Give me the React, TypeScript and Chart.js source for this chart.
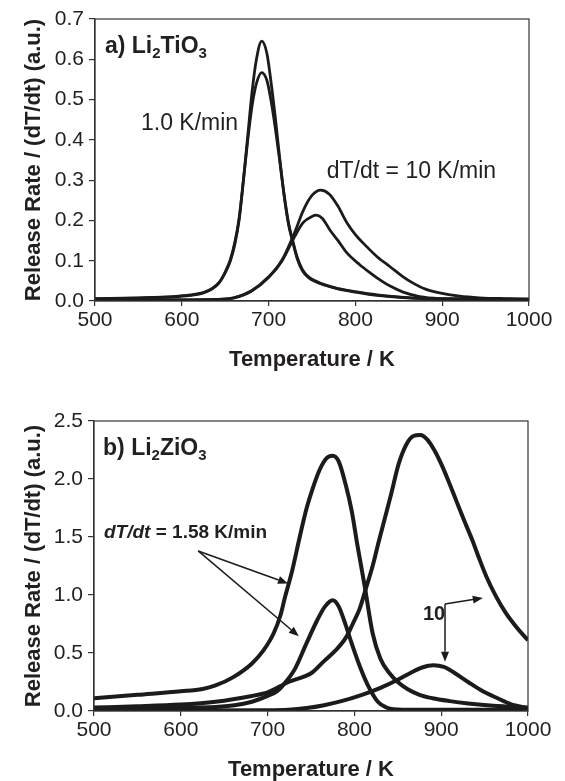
import React, { useEffect, useRef } from 'react';
import { Chart, registerables } from 'chart.js';

Chart.register(...registerables);

// ---------- Panel a) Li2TiO3 ----------
// 1.0 K/min, run 1
const tA1 = [500, 550, 590, 610, 625, 635, 643, 650, 656, 661, 666, 671, 676, 681, 686, 692, 698, 703, 708, 713, 718, 723, 728, 733, 739, 746, 755, 765, 780, 800, 825, 850, 880, 930, 1000];
const vA1 = [0.005, 0.007, 0.010, 0.014, 0.020, 0.030, 0.045, 0.070, 0.100, 0.140, 0.200, 0.300, 0.410, 0.520, 0.600, 0.645, 0.615, 0.540, 0.450, 0.350, 0.260, 0.190, 0.145, 0.105, 0.075, 0.058, 0.047, 0.039, 0.030, 0.022, 0.014, 0.009, 0.006, 0.005, 0.004];
// 1.0 K/min, run 2
const tA2 = [500, 550, 590, 610, 625, 635, 643, 650, 656, 661, 666, 671, 676, 681, 686, 692, 698, 703, 708, 713, 718, 723, 728, 733, 739, 746, 755, 765, 780, 800, 825, 850, 880, 930, 1000];
const vA2 = [0.006, 0.008, 0.011, 0.015, 0.021, 0.031, 0.046, 0.072, 0.103, 0.145, 0.205, 0.300, 0.400, 0.485, 0.540, 0.567, 0.548, 0.495, 0.425, 0.345, 0.262, 0.193, 0.148, 0.108, 0.078, 0.060, 0.049, 0.040, 0.031, 0.023, 0.015, 0.010, 0.006, 0.005, 0.004];
// 10 K/min, run 1
const tB1 = [500, 600, 640, 660, 680, 700, 715, 730, 740, 750, 760, 770, 780, 790, 800, 813, 825, 840, 855, 866, 880, 897, 920, 943, 970, 1000];
const vB1 = [0.003, 0.003, 0.004, 0.008, 0.025, 0.060, 0.100, 0.170, 0.225, 0.262, 0.275, 0.265, 0.235, 0.195, 0.165, 0.135, 0.110, 0.085, 0.060, 0.045, 0.030, 0.020, 0.012, 0.008, 0.006, 0.005];
// 10 K/min, run 2
const tB2 = [500, 600, 640, 660, 680, 700, 715, 730, 740, 750, 755, 762, 771, 780, 790, 805, 817, 830, 840, 855, 874, 897, 950, 1000];
const vB2 = [0.003, 0.003, 0.004, 0.008, 0.024, 0.058, 0.098, 0.160, 0.195, 0.210, 0.213, 0.205, 0.175, 0.150, 0.120, 0.090, 0.070, 0.050, 0.037, 0.022, 0.011, 0.006, 0.004, 0.004];

// ---------- Panel b) Li2ZiO3 ----------
// 1.58 K/min, large
const tC1 = [500, 550, 600, 625, 640, 660, 682, 695, 707, 715, 720, 728, 737, 745, 752, 760, 768, 775, 782, 790, 797, 803, 812, 821, 830, 840, 850, 861, 875, 890, 910, 931, 960, 1000];
const vC1 = [0.11, 0.14, 0.17, 0.19, 0.22, 0.29, 0.41, 0.52, 0.67, 0.83, 0.98, 1.20, 1.50, 1.75, 1.92, 2.08, 2.18, 2.20, 2.15, 1.95, 1.72, 1.45, 1.07, 0.67, 0.45, 0.33, 0.25, 0.19, 0.14, 0.11, 0.085, 0.065, 0.045, 0.03];
// 1.58 K/min, small
const tC2 = [500, 550, 600, 640, 682, 700, 711, 722, 732, 744, 757, 766, 775, 782, 790, 797, 805, 815, 827, 837, 845, 870, 1000];
const vC2 = [0.02, 0.025, 0.03, 0.035, 0.08, 0.13, 0.17, 0.26, 0.37, 0.57, 0.78, 0.90, 0.955, 0.90, 0.74, 0.58, 0.41, 0.23, 0.08, 0.03, 0.015, 0.01, 0.01];
// 10 K/min, large
const tC3 = [500, 550, 600, 640, 682, 700, 724, 751, 765, 778, 790, 798, 806, 813, 821, 828, 835, 842, 851, 860, 868, 876, 884, 892, 900, 908, 917, 926, 936, 944, 952, 963, 974, 987, 1000];
const vC3 = [0.03, 0.04, 0.055, 0.08, 0.13, 0.16, 0.25, 0.33, 0.43, 0.52, 0.63, 0.75, 0.88, 1.05, 1.25, 1.46, 1.66, 1.86, 2.13, 2.30, 2.37, 2.38, 2.34, 2.25, 2.13, 1.99, 1.82, 1.65, 1.47, 1.31, 1.16, 0.99, 0.85, 0.72, 0.61];
// 10 K/min, small
const tC4 = [500, 600, 700, 724, 745, 765, 785, 807, 830, 850, 865, 878, 891, 903, 915, 931, 948, 965, 980, 1000];
const vC4 = [0.005, 0.005, 0.006, 0.01, 0.025, 0.05, 0.085, 0.135, 0.20, 0.27, 0.33, 0.375, 0.395, 0.38, 0.33, 0.25, 0.17, 0.11, 0.06, 0.025];

const xTicks = [500, 600, 700, 800, 900, 1000];

const FONT = "'Liberation Sans', Arial, Helvetica, sans-serif";
const INK = '#1c1a1b';
const AXIS = '#333333';
const TEXT = '#231f20';

type Seg = { text: string; sub?: boolean; italic?: boolean; bold?: boolean };
type Label = { x: number; y: number; size: number; segs: Seg[] };
type Arrow = { x1: number; y1: number; x2: number; y2: number; head: boolean };

const topLabels: Label[] = [
  { x: 511.5, y: 0.615, size: 23, segs: [{ text: 'a) Li', bold: true }, { text: '2', sub: true, bold: true }, { text: 'TiO', bold: true }, { text: '3', sub: true, bold: true }] },
  { x: 553, y: 0.424, size: 23, segs: [{ text: '1.0 K/min' }] },
  { x: 767, y: 0.305, size: 23, segs: [{ text: 'dT/dt = 10 K/min' }] },
];
const bottomLabels: Label[] = [
  { x: 510.4, y: 2.207, size: 23, segs: [{ text: 'b) Li', bold: true }, { text: '2', sub: true, bold: true }, { text: 'ZiO', bold: true }, { text: '3', sub: true, bold: true }] },
  { x: 511.5, y: 1.49, size: 19, segs: [{ text: 'dT/dt', bold: true, italic: true }, { text: ' = 1.58 K/min', bold: true }] },
  { x: 879, y: 0.784, size: 20, segs: [{ text: '10', bold: true }] },
];
const bottomArrows: Arrow[] = [
  { x1: 620, y1: 1.38, x2: 723.5, y2: 1.10, head: true },
  { x1: 620, y1: 1.38, x2: 736, y2: 0.645, head: true },
  { x1: 904.4, y1: 0.922, x2: 948, y2: 0.974, head: true },
  { x1: 904.4, y1: 0.922, x2: 904.4, y2: 0.425, head: true },
];

function pts(t: number[], v: number[]) {
  return t.map((x, i) => ({ x, y: v[i] }));
}

function overlay(labels: Label[], arrows: Arrow[]) {
  return {
    id: 'overlay',
    afterDraw(chart: any) {
      const { ctx, chartArea: ca, scales } = chart;
      const xs = scales.x, ys = scales.y;
      ctx.save();
      ctx.strokeStyle = AXIS;
      ctx.lineWidth = 1.2;
      ctx.strokeRect(ca.left, ca.top, ca.right - ca.left, ca.bottom - ca.top);
      ctx.fillStyle = TEXT;
      ctx.textAlign = 'left';
      ctx.textBaseline = 'alphabetic';
      for (const L of labels) {
        let px = xs.getPixelForValue(L.x);
        const py = ys.getPixelForValue(L.y);
        for (const s of L.segs) {
          const size = s.sub ? Math.round(L.size * 0.65) : L.size;
          ctx.font = `${s.italic ? 'italic ' : ''}${s.bold ? 'bold ' : ''}${size}px ${FONT}`;
          ctx.fillText(s.text, px, py + (s.sub ? L.size * 0.22 : 0));
          px += ctx.measureText(s.text).width;
        }
      }
      ctx.strokeStyle = INK;
      ctx.fillStyle = INK;
      ctx.lineWidth = 1.5;
      for (const a of arrows) {
        const x1 = xs.getPixelForValue(a.x1), y1 = ys.getPixelForValue(a.y1);
        const x2 = xs.getPixelForValue(a.x2), y2 = ys.getPixelForValue(a.y2);
        const ang = Math.atan2(y2 - y1, x2 - x1);
        const hl = 10, hw = 4;
        const bx = x2 - hl * Math.cos(ang), by = y2 - hl * Math.sin(ang);
        ctx.beginPath();
        ctx.moveTo(x1, y1);
        ctx.lineTo(bx, by);
        ctx.stroke();
        if (a.head) {
          ctx.beginPath();
          ctx.moveTo(x2, y2);
          ctx.lineTo(bx + hw * Math.sin(ang), by - hw * Math.cos(ang));
          ctx.lineTo(bx - hw * Math.sin(ang), by + hw * Math.cos(ang));
          ctx.closePath();
          ctx.fill();
        }
      }
      ctx.restore();
    },
  };
}

type PanelProps = {
  width: number;
  height: number;
  series: { x: number; y: number }[][];
  lineWidth: number;
  yMax: number;
  yStep: number;
  padTop: number;
  padRight: number;
  yAxisWidth: number;
  xAxisHeight: number;
  xTitlePadBottom: number;
  labels: Label[];
  arrows: Arrow[];
};

function Panel(p: PanelProps) {
  const ref = useRef<HTMLCanvasElement | null>(null);
  useEffect(() => {
    if (!ref.current) return;
    const chart = new Chart(ref.current, {
      type: 'line',
      data: {
        datasets: p.series.map((d) => ({
          data: d,
          borderColor: INK,
          borderWidth: p.lineWidth,
          pointRadius: 0,
          fill: false,
          cubicInterpolationMode: 'monotone' as const,
        })),
      },
      options: {
        responsive: false,
        animation: false,
        devicePixelRatio: 1,
        parsing: false as any,
        layout: { padding: { top: p.padTop, right: p.padRight, left: 0, bottom: 0 } },
        plugins: { legend: { display: false }, tooltip: { enabled: false } },
        scales: {
          x: {
            type: 'linear',
            min: 500,
            max: 1000,
            afterBuildTicks: (s: any) => {
              s.ticks = xTicks.map((v) => ({ value: v }));
            },
            afterFit: (s: any) => {
              s.height = p.xAxisHeight;
            },
            border: { display: true, color: AXIS, width: 1.2 },
            grid: { drawOnChartArea: false, drawTicks: true, tickLength: 5, color: AXIS, lineWidth: 1.2 },
            ticks: {
              color: TEXT,
              font: { family: FONT, size: 21 },
              padding: 2,
              maxRotation: 0,
              callback: (v: any) => String(v),
            },
            title: {
              display: true,
              text: 'Temperature / K',
              color: TEXT,
              font: { family: FONT, size: 22, weight: 'bold', lineHeight: 1 },
              padding: { top: 0, bottom: p.xTitlePadBottom },
            },
          },
          y: {
            type: 'linear',
            min: 0,
            max: p.yMax,
            afterFit: (s: any) => {
              s.width = p.yAxisWidth;
            },
            border: { display: true, color: AXIS, width: 1.2 },
            grid: { drawOnChartArea: false, drawTicks: true, tickLength: 6, color: AXIS, lineWidth: 1.2 },
            ticks: {
              stepSize: p.yStep,
              color: TEXT,
              font: { family: FONT, size: 21 },
              padding: 5,
              callback: (v: any) => Number(v).toFixed(1),
            },
            title: {
              display: true,
              text: 'Release Rate / (dT/dt) (a.u.)',
              color: TEXT,
              font: { family: FONT, size: 22, weight: 'bold', lineHeight: 1 },
              padding: { top: 23, bottom: 0 },
            },
          },
        },
      },
      plugins: [overlay(p.labels, p.arrows)],
    } as any);
    return () => chart.destroy();
  }, []);
  return <canvas ref={ref} width={p.width} height={p.height} style={{ display: 'block', width: p.width, height: p.height }} />;
}

export default function App() {
  return (
    <div style={{ position: 'absolute', left: 0, top: 0, width: 565, height: 781, background: '#fff' }}>
      <Panel
        width={565}
        height={385}
        series={[pts(tA1, vA1), pts(tA2, vA2), pts(tB1, vB1), pts(tB2, vB2)]}
        lineWidth={2.8}
        yMax={0.7}
        yStep={0.1}
        padTop={19}
        padRight={36}
        yAxisWidth={95}
        xAxisHeight={84}
        xTitlePadBottom={14}
        labels={topLabels}
        arrows={[]}
      />
      <Panel
        width={565}
        height={396}
        series={[pts(tC1, vC1), pts(tC2, vC2), pts(tC3, vC3), pts(tC4, vC4)]}
        lineWidth={4}
        yMax={2.5}
        yStep={0.5}
        padTop={36}
        padRight={37}
        yAxisWidth={94}
        xAxisHeight={70}
        xTitlePadBottom={0}
        labels={bottomLabels}
        arrows={bottomArrows}
      />
    </div>
  );
}
